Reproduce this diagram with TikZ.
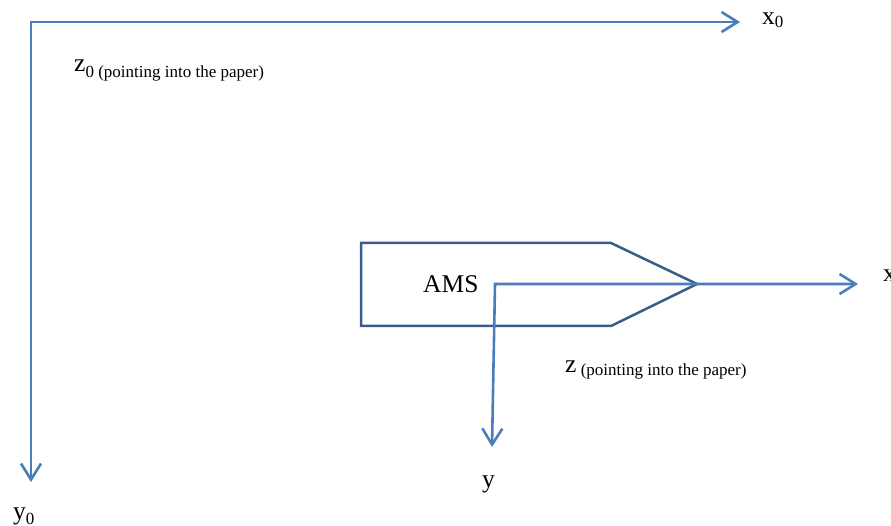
\documentclass[tikz,border=0pt]{standalone}
\usepackage{fontspec}
\setmainfont{Liberation Serif}
\usetikzlibrary{arrows.meta}
\definecolor{axisblue}{HTML}{4A7EBB}
\definecolor{boxblue}{HTML}{385D8A}
\begin{document}
\begin{tikzpicture}[x=1pt,y=-1pt,
  axisline/.style={draw=axisblue, line width=2.6pt,
    {Straight Barb[length=16pt,width=20pt]}-{Straight Barb[length=16pt,width=20pt]}},
  lbl/.style={anchor=base west, inner sep=0pt, font=\fontsize{25.5}{30}\selectfont}
]
\useasboundingbox (0,0) rectangle (891,526);
% world frame
\coordinate (O0) at (31,22);
\coordinate (X0) at (740,22);
\coordinate (Y0) at (31,482);
\draw[axisline] (X0) -- (O0) -- (Y0);
% AMS body
\coordinate (B1) at (361,243);
\coordinate (B2) at (611,243);
\coordinate (B3) at (697,284);
\coordinate (B4) at (611,326);
\coordinate (B5) at (361,326);
\draw[boxblue, line width=2.5pt, line join=miter] (B1) -- (B2) -- (B3) -- (B4) -- (B5) -- cycle;
% body frame
\coordinate (O1) at (495,284);
\coordinate (X1) at (858,284);
\coordinate (Y1) at (492,447);
\draw[axisline] (X1) -- (O1) -- (Y1);
% labels
\node[lbl] (lx0) at (762,25) {x\raisebox{-3pt}{\fontsize{17}{20}\selectfont 0}};
\node[lbl] (ly0) at (13,519) {y\raisebox{-5pt}{\fontsize{17}{20}\selectfont 0}};
\node[lbl] (lz0) at (74,72) {z\raisebox{-6pt}{\fontsize{17}{20}\selectfont 0 (pointing into the paper)}};
\node[lbl] (ams) at (423,293) {AMS};
\node[lbl] (lx) at (883,282) {x};
\node[lbl] (ly) at (482,487) {y};
\node[lbl] (lz) at (565,372) {z\raisebox{-3pt}{\fontsize{17}{20}\selectfont\ (pointing into the paper)}};
\end{tikzpicture}
\end{document}
